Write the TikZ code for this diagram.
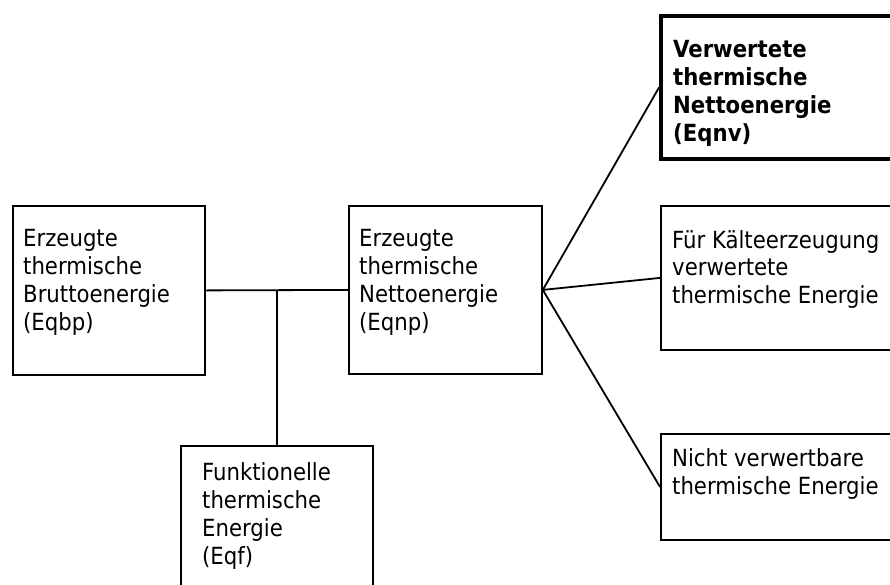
\documentclass[tikz,border=0pt]{standalone}
\usepackage{fontspec}
\setmainfont{DejaVu Sans Condensed}
\begin{document}
\begin{tikzpicture}[x=1pt,y=-1pt,
  box/.style={draw=black,line width=1.8pt,rectangle,inner sep=0pt,anchor=north west},
  strongbox/.style={box,line width=4pt},
  % base anchor of a multi-line node sits on its last line
  txt/.style={anchor=base west,inner sep=0pt,align=left,font=\fontsize{23.6}{27.7}\selectfont},
  link/.style={draw=black,line width=1.8pt}]
\useasboundingbox (0,0) rectangle (890,584);
\clip (0,0) rectangle (890,584);
\fill[white] (0,0) rectangle (890,584);

% boxes
\node[box,minimum width=192pt,minimum height=169pt] (brutto) at (12,205) {};
\node[box,minimum width=193pt,minimum height=168pt] (netto) at (348,205) {};
\node[box,minimum width=192pt,minimum height=160pt] (funk) at (180,445) {};
\node[strongbox,minimum width=250pt,minimum height=143pt] (verw) at (659,14) {};
\node[box,minimum width=250pt,minimum height=144pt] (kaelte) at (660,205) {};
\node[box,minimum width=250pt,minimum height=106pt] (nicht) at (660,433) {};

% texts (positioned by the baseline of their last line)
\node[txt] (tbrutto) at (23,330) {Erzeugte\\thermische\\Bruttoenergie\\(Eqbp)};
\node[txt] (tnetto) at (359,330) {Erzeugte\\thermische\\Nettoenergie\\(Eqnp)};
\node[txt] (tfunk) at (202,564) {Funktionelle\\thermische\\Energie\\(Eqf)};
\node[txt,font=\fontsize{23.6}{27.7}\selectfont\bfseries] (tverw) at (673,141) {Verwertete\\thermische\\Nettoenergie\\(Eqnv)};
\node[txt] (tkaelte) at (672,303.5) {Für Kälteerzeugung\\verwertete\\thermische Energie};
\node[txt] (tnicht) at (672,494.5) {Nicht verwertbare\\thermische Energie};

% connectors
\draw[link] (brutto.east) -- (netto.west);
\draw[link] (funk.north) -- (funk.north |- brutto.east);
\draw[link] (netto.east) -- (verw.west);
\draw[link] (netto.east) -- (kaelte.west);
\draw[link] (netto.east) -- (nicht.west);
\end{tikzpicture}
\end{document}
